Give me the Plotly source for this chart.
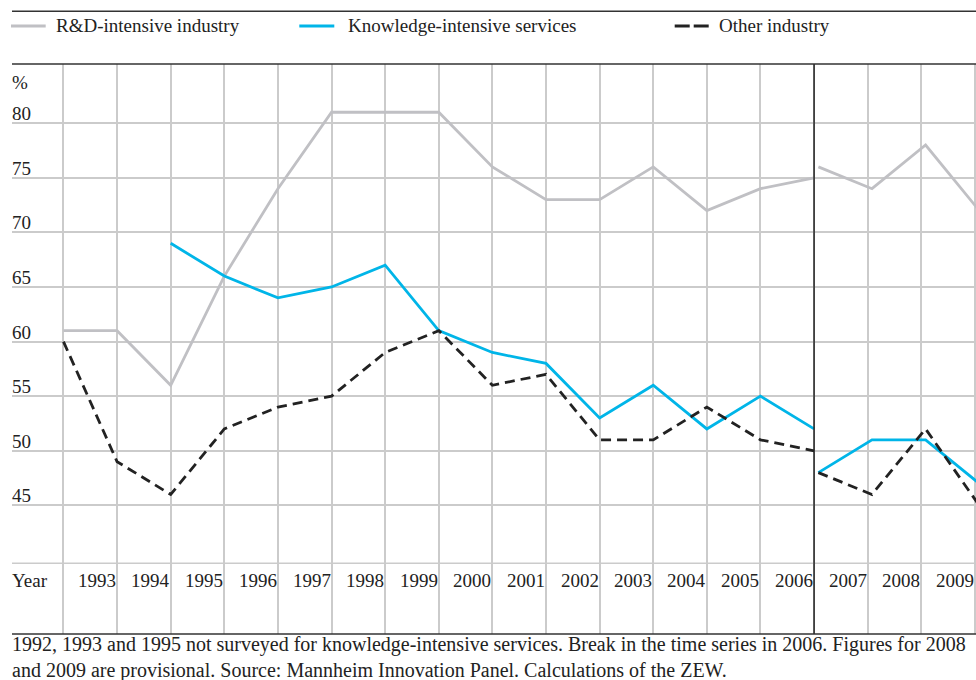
import plotly.graph_objects as go

# ---------------- data ----------------
years_old = [1992, 1993, 1994, 1995, 1996, 1997, 1998, 1999, 2000,
             2001, 2002, 2003, 2004, 2005, 2006]
rd_old = [61, 61, 56, 66, 74, 81, 81, 81, 76, 73, 73, 76, 72, 74, 75]
kis_old = [None, None, 69, 66, 64, 65, 67, 61, 59, 58, 53, 56, 52, 55, 52]
other_old = [60, 49, 46, 52, 54, 55, 59, 61, 56, 57, 51, 51, 54, 51, 50]

years_new = [2006, 2007, 2008, 2009]
rd_new = [76, 74, 78, 72]
kis_new = [48, 51, 51, 47]
other_new = [48, 46, 52, 45]

year_labels = ["1993", "1994", "1995", "1996", "1997", "1998", "1999", "2000",
               "2001", "2002", "2003", "2004", "2005", "2006", "2007", "2008", "2009"]
label_years = list(range(1993, 2010))
y_ticks = [45, 50, 55, 60, 65, 70, 75, 80]
break_year = 2006

series_names = ["R&D-intensive industry", "Knowledge-intensive services", "Other industry"]
footnote1 = ("1992, 1993 and 1995 not surveyed for knowledge-intensive services. "
             "Break in the time series in 2006. Figures for 2008")
footnote2 = "and 2009 are provisional. Source: Mannheim Innovation Panel. Calculations of the ZEW."

# ---------------- style ----------------
W, H = 976, 680
L, R, T, B = 12, 0, 64, 46
PW, PH = W - L - R, H - T - B
GREY = "#c0c0c4"
BLUE = "#00b5e8"
BLACK = "#222222"
GRID = "#cbcbcb"
FONT = "Liberation Serif, Times New Roman, Times, serif"
FS = 19
DASH = "10px,6px"
LW = 2.8

xr = [1991.04, 2009.02]
shift = 0.08
yr = [33.22, 85.42]


def px(xpix):
    return (xpix - L) / PW


def py(ypix):
    return (H - B - ypix) / PH


fig = go.Figure()

styles = [dict(color=GREY, width=LW), dict(color=BLUE, width=LW),
          dict(color=BLACK, width=LW, dash=DASH)]

for name, vals, st in zip(series_names, [rd_old, kis_old, other_old], styles):
    fig.add_trace(go.Scatter(x=years_old, y=vals, mode="lines", name=name,
                             line=st, showlegend=False, connectgaps=False,
                             xaxis="x", yaxis="y"))
for name, vals, st in zip(series_names, [rd_new, kis_new, other_new], styles):
    fig.add_trace(go.Scatter(x=years_new, y=vals, mode="lines", name=name,
                             line=st, showlegend=False,
                             xaxis="x2", yaxis="y"))

shapes = []
# break line
shapes.append(dict(type="line", xref="x", yref="paper", x0=break_year, x1=break_year,
                   y0=0, y1=1, line=dict(color=BLACK, width=1.5), layer="above"))
# frame lines
for yy in (0, 1):
    shapes.append(dict(type="line", xref="paper", yref="paper", x0=0, x1=1,
                       y0=yy, y1=yy, line=dict(color="#333333", width=1.5), layer="above"))
# legend top line
shapes.append(dict(type="line", xref="paper", yref="paper", x0=0, x1=1,
                   y0=py(11.3), y1=py(11.3), line=dict(color="#333333", width=1.5)))
# separator line above year row
shapes.append(dict(type="line", xref="paper", yref="paper", x0=0, x1=1,
                   y0=py(563.3), y1=py(563.3), line=dict(color=GRID, width=1.5),
                   layer="below"))

annotations = []
# legend (drawn manually)
leg_pos = [(11, 45.7, 54.3), (299.3, 334.3, 345.7), (674.7, 710.3, 717.3)]
leg_dash = [None, None, "15px,4px"]
leg_cols = [GREY, BLUE, BLACK]
for (a, b, t), name, col, dsh in zip(leg_pos, series_names, leg_cols, leg_dash):
    ln = dict(color=col, width=LW)
    if dsh:
        ln["dash"] = dsh
    shapes.append(dict(type="line", xref="paper", yref="paper", x0=px(a), x1=px(b),
                       y0=py(26), y1=py(26), line=ln))
    annotations.append(dict(text=name, xref="paper", yref="paper", x=px(t), y=py(25.5),
                            xanchor="left", yanchor="middle", showarrow=False,
                            font=dict(family=FONT, size=FS, color=BLACK)))

# y tick labels
for v in y_ticks:
    annotations.append(dict(text=str(v), xref="paper", yref="y", x=0, y=v,
                            xanchor="left", yanchor="bottom", showarrow=False,
                            xshift=-2, yshift=-3,
                            font=dict(family=FONT, size=FS, color=BLACK)))
annotations.append(dict(text="%", xref="paper", yref="paper", x=0, y=py(82.5),
                        xanchor="left", yanchor="middle", showarrow=False, xshift=-2,
                        font=dict(family=FONT, size=FS, color=BLACK)))
# year labels
annotations.append(dict(text="Year", xref="paper", yref="paper", x=0, y=py(580.5),
                        xanchor="left", yanchor="middle", showarrow=False, xshift=-2,
                        font=dict(family=FONT, size=FS, color=BLACK)))
for yv, lab in zip(label_years, year_labels):
    annotations.append(dict(text=lab, xref="x", yref="paper", x=yv, y=py(580.5),
                            xanchor="right", yanchor="middle", showarrow=False,
                            xshift=1,
                            font=dict(family=FONT, size=FS, color=BLACK)))
# footnote
annotations.append(dict(text=footnote1 + "<br>" + footnote2, xref="paper", yref="paper",
                        x=0, y=py(657.5), xanchor="left", yanchor="middle", align="left",
                        showarrow=False, xshift=-2,
                        font=dict(family=FONT, size=20, color=BLACK)))

fig.update_layout(
    width=W, height=H,
    margin=dict(l=L, r=R, t=T, b=B, pad=0),
    paper_bgcolor="white", plot_bgcolor="white",
    showlegend=False,
    xaxis=dict(range=xr, tickvals=list(range(1992, 2010)), showticklabels=False,
               showgrid=True, gridcolor=GRID, gridwidth=1.5, zeroline=False,
               showline=False, ticks="", fixedrange=True),
    xaxis2=dict(range=[xr[0] - shift, xr[1] - shift], overlaying="x", visible=False,
                fixedrange=True),
    yaxis=dict(range=yr, tickvals=y_ticks, showticklabels=False, showgrid=True,
               gridcolor=GRID, gridwidth=1.5, zeroline=False, showline=False,
               ticks="", fixedrange=True),
    shapes=shapes,
    annotations=annotations,
)

fig.write_html("out.html", config={"displayModeBar": False},
               post_script="document.body.style.margin='0';")
